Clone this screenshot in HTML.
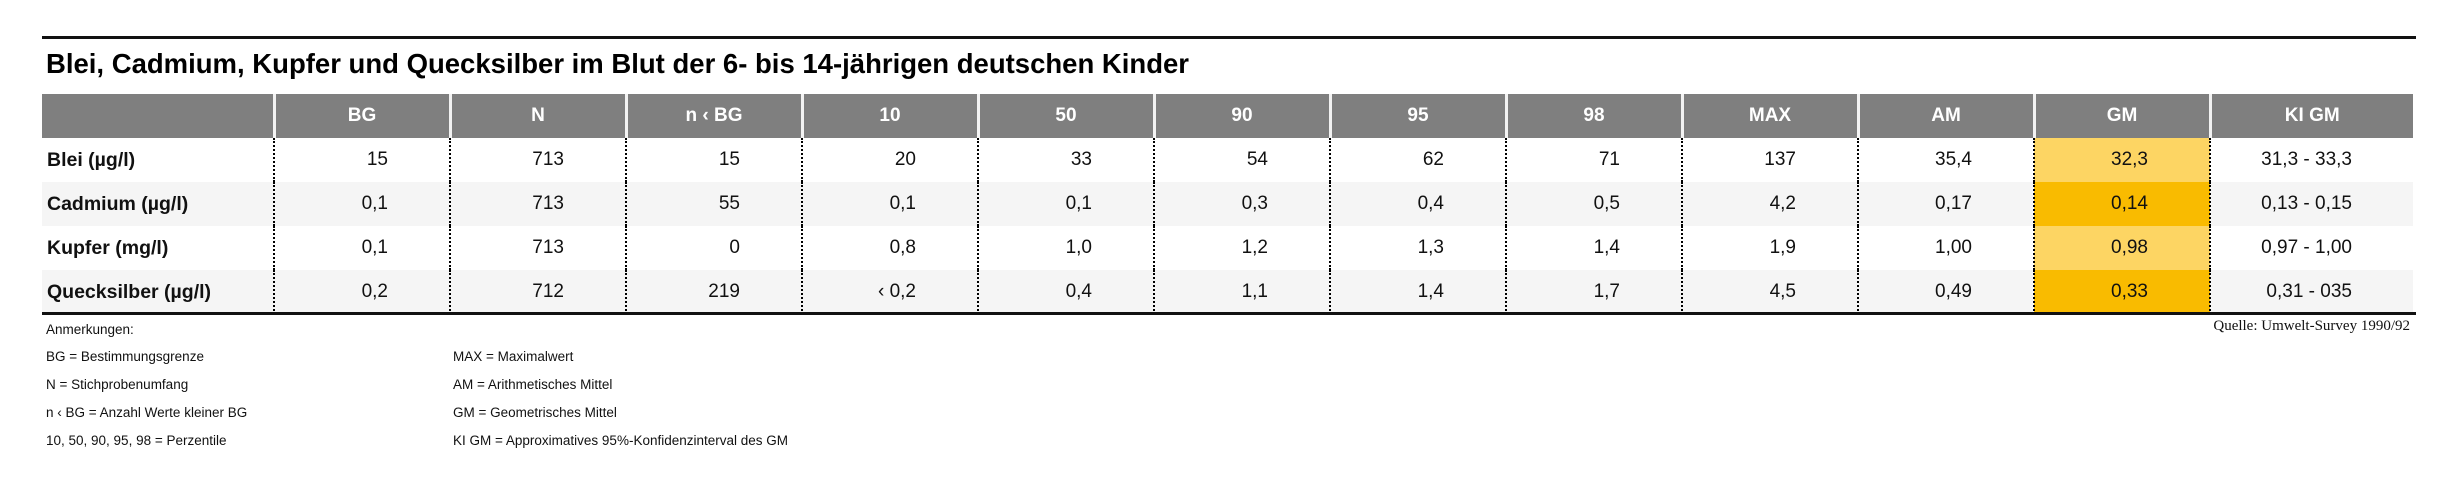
<!DOCTYPE html>
<html><head><meta charset="utf-8"><style>
body{margin:0;width:2457px;height:480px;background:#fff;font-family:"Liberation Sans",sans-serif;position:relative;overflow:hidden}
.topline{position:absolute;left:42px;top:36px;width:2374px;height:3px;background:#111}
.title{position:absolute;left:46px;top:48px;font-size:27.5px;font-weight:bold;color:#000;white-space:nowrap}
table{position:absolute;left:42px;top:94px;border-collapse:collapse;table-layout:fixed}
th{background:#7f7f7f;color:#fff;font-size:19px;font-weight:bold;height:44px;padding:0;border-left:3px solid #f2f2f2;text-align:center}
th:first-child{border-left:none}
td{height:44px;padding:0 61px 0 0;font-size:19px;text-align:right;color:#111;border-left:2px dotted #000}
td:first-child{border-left:none;text-align:left;padding:0 0 0 5px;font-weight:bold;font-size:19.5px}
tr.alt td{background:#f5f5f5}
td.gl{background:#fdd563!important}
td.gd{background:#f9bb00!important}
.bottom{position:absolute;left:42px;top:312px;width:2374px;height:3px;background:#111}
.note{position:absolute;font-size:13.5px;color:#111;white-space:nowrap}
.src{position:absolute;right:47px;top:318px;font-family:"Liberation Serif",serif;font-size:15px;color:#111}
</style></head><body>
<div class="topline"></div>
<div class="title">Blei, Cadmium, Kupfer und Quecksilber im Blut der 6- bis 14-jährigen deutschen Kinder</div>
<table>
<colgroup><col style="width:232px"><col style="width:176px"><col style="width:176px"><col style="width:176px"><col style="width:176px"><col style="width:176px"><col style="width:176px"><col style="width:176px"><col style="width:176px"><col style="width:176px"><col style="width:176px"><col style="width:176px"><col style="width:203px"></colgroup>
<tr><th></th><th>BG</th><th>N</th><th>n ‹ BG</th><th>10</th><th>50</th><th>90</th><th>95</th><th>98</th><th>MAX</th><th>AM</th><th>GM</th><th>KI GM</th></tr>
<tr><td>Blei (µg/l)</td><td>15</td><td>713</td><td>15</td><td>20</td><td>33</td><td>54</td><td>62</td><td>71</td><td>137</td><td>35,4</td><td class="gl">32,3</td><td>31,3 - 33,3</td></tr>
<tr class="alt"><td>Cadmium (µg/l)</td><td>0,1</td><td>713</td><td>55</td><td>0,1</td><td>0,1</td><td>0,3</td><td>0,4</td><td>0,5</td><td>4,2</td><td>0,17</td><td class="gd">0,14</td><td>0,13 - 0,15</td></tr>
<tr><td>Kupfer (mg/l)</td><td>0,1</td><td>713</td><td>0</td><td>0,8</td><td>1,0</td><td>1,2</td><td>1,3</td><td>1,4</td><td>1,9</td><td>1,00</td><td class="gl">0,98</td><td>0,97 - 1,00</td></tr>
<tr class="alt"><td>Quecksilber (µg/l)</td><td>0,2</td><td>712</td><td>219</td><td>‹ 0,2</td><td>0,4</td><td>1,1</td><td>1,4</td><td>1,7</td><td>4,5</td><td>0,49</td><td class="gd">0,33</td><td>0,31 - 035</td></tr>
</table>
<div class="bottom"></div>
<div class="note" style="left:46px;top:322px">Anmerkungen:</div>
<div class="note" style="left:46px;top:349px">BG = Bestimmungsgrenze</div>
<div class="note" style="left:46px;top:377px">N = Stichprobenumfang</div>
<div class="note" style="left:46px;top:405px">n ‹ BG = Anzahl Werte kleiner BG</div>
<div class="note" style="left:46px;top:433px">10, 50, 90, 95, 98 = Perzentile</div>
<div class="note" style="left:453px;top:349px">MAX = Maximalwert</div>
<div class="note" style="left:453px;top:377px">AM = Arithmetisches Mittel</div>
<div class="note" style="left:453px;top:405px">GM = Geometrisches Mittel</div>
<div class="note" style="left:453px;top:433px">KI GM = Approximatives 95%-Konfidenzinterval des GM</div>
<div class="src">Quelle: Umwelt-Survey 1990/92</div>
</body></html>
